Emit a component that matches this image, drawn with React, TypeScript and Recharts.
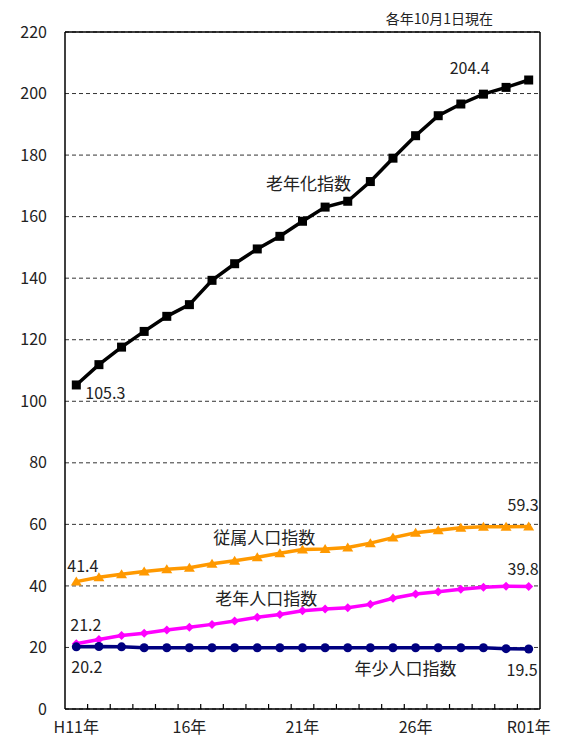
import React from 'react';
import { LineChart, Line, XAxis, YAxis, CartesianGrid, LabelList } from 'recharts';

const categories = ['H11', 'H12', 'H13', 'H14', 'H15', 'H16', 'H17', 'H18', 'H19', 'H20', 'H21', 'H22', 'H23', 'H24', 'H25', 'H26', 'H27', 'H28', 'H29', 'H30', 'R01'];
const tickLabels = ['H11年', '', '', '', '', '16年', '', '', '', '', '21年', '', '', '', '', '26年', '', '', '', '', 'R01年'];
const yTicks = [0, 20, 40, 60, 80, 100, 120, 140, 160, 180, 200, 220];

const agingIndex = [105.3, 111.9, 117.6, 122.7, 127.6, 131.4, 139.3, 144.7, 149.5, 153.6, 158.5, 163.1, 165.0, 171.4, 179.0, 186.3, 192.8, 196.6, 199.8, 202.0, 204.4];
const dependencyIndex = [41.4, 42.8, 43.8, 44.7, 45.4, 45.9, 47.2, 48.2, 49.3, 50.6, 51.8, 52.0, 52.5, 53.9, 55.7, 57.3, 58.1, 58.9, 59.2, 59.2, 59.3];
const elderlyIndex = [21.2, 22.6, 23.9, 24.6, 25.7, 26.6, 27.5, 28.6, 29.8, 30.7, 31.9, 32.5, 32.9, 34.0, 36.0, 37.4, 38.1, 38.9, 39.6, 39.9, 39.8];
const youthIndex = [20.2, 20.3, 20.2, 19.9, 19.9, 19.9, 19.9, 19.9, 19.9, 19.9, 19.9, 19.9, 19.9, 19.9, 19.9, 19.9, 19.9, 19.9, 19.9, 19.6, 19.5];

const data = categories.map((c, i) => ({
  name: c,
  aging: agingIndex[i],
  dependency: dependencyIndex[i],
  elderly: elderlyIndex[i],
  youth: youthIndex[i],
}));

const FONT = '"Noto Sans CJK JP", "Noto Sans", sans-serif';
const TEXT = '#222';
const CHART_W = 560;
const CHART_H = 728;
const MARGIN = { top: 24, right: 28, left: 0, bottom: 0 };
const YAXIS_W = 57;
const PLOT_W = CHART_W - MARGIN.right - MARGIN.left - YAXIS_W;
const HALF_BAND = PLOT_W / categories.length / 2;

function XTick(props: any) {
  const { x, y, payload, index } = props;
  const i = payload && payload.index != null ? payload.index : index;
  return (
    <g>
      {i < categories.length - 1 && (
        <line x1={x + HALF_BAND} x2={x + HALF_BAND} y1={y} y2={y - 5} stroke="#000" strokeWidth={1.2} />
      )}
      {tickLabels[i] ? (
        <text x={x} y={y + 18} dy="0.355em" textAnchor="middle" fontSize={16} fill={TEXT} fontFamily={FONT}>
          {tickLabels[i]}
        </text>
      ) : null}
    </g>
  );
}

const SquareDot = (props: any) => {
  const { cx, cy, index } = props;
  if (cx == null || cy == null) return <g key={index} />;
  return <rect key={index} x={cx - 4.5} y={cy - 4.5} width={9} height={9} fill="#000" />;
};
const TriangleDot = (props: any) => {
  const { cx, cy, index } = props;
  if (cx == null || cy == null) return <g key={index} />;
  return <path key={index} d={`M${cx},${cy - 5} L${cx + 5.5},${cy + 4} L${cx - 5.5},${cy + 4} Z`} fill="#FF9900" />;
};
const DiamondDot = (props: any) => {
  const { cx, cy, index } = props;
  if (cx == null || cy == null) return <g key={index} />;
  return <path key={index} d={`M${cx},${cy - 4.5} L${cx + 4.5},${cy} L${cx},${cy + 4.5} L${cx - 4.5},${cy} Z`} fill="#FF00FF" />;
};
const CircleDot = (props: any) => {
  const { cx, cy, index } = props;
  if (cx == null || cy == null) return <g key={index} />;
  return <circle key={index} cx={cx} cy={cy} r={4.5} fill="#000080" />;
};

type LabelCfg = { index: number; text?: string; dx: number; dy: number; anchor: 'start' | 'middle' | 'end'; size: number };

function makeLabels(cfgs: LabelCfg[]) {
  return (props: any) => {
    const { x, y, index, value } = props;
    const found = cfgs.filter((c) => c.index === index);
    if (!found.length) return null;
    return (
      <g>
        {found.map((c, k) => (
          <text
            key={k}
            x={x + c.dx}
            y={y + c.dy}
            dy="0.355em"
            textAnchor={c.anchor}
            fontSize={c.size}
            fill={TEXT}
            fontFamily={FONT}
          >
            {c.text != null ? c.text : Number(value).toFixed(1)}
          </text>
        ))}
      </g>
    );
  };
}

const agingLabels = makeLabels([
  { index: 0, dx: 9, dy: 8, anchor: 'start', size: 16 },
  { index: 20, dx: -59, dy: -12, anchor: 'middle', size: 16 },
  { index: 10, text: '老年化指数', dx: 6, dy: -37, anchor: 'middle', size: 17 },
]);
const dependencyLabels = makeLabels([
  { index: 0, dx: -9, dy: -15, anchor: 'start', size: 16 },
  { index: 20, dx: 10, dy: -21, anchor: 'end', size: 16 },
  { index: 8, text: '従属人口指数', dx: 7, dy: -19, anchor: 'middle', size: 17 },
]);
const elderlyLabels = makeLabels([
  { index: 0, dx: -6, dy: -18, anchor: 'start', size: 16 },
  { index: 20, dx: 10, dy: -17, anchor: 'end', size: 16 },
  { index: 8, text: '老年人口指数', dx: 9, dy: -18, anchor: 'middle', size: 17 },
]);
const youthLabels = makeLabels([
  { index: 0, dx: -5, dy: 20, anchor: 'start', size: 16 },
  { index: 20, dx: 9, dy: 21, anchor: 'end', size: 16 },
  { index: 15, text: '年少人口指数', dx: -10, dy: 21, anchor: 'middle', size: 17 },
]);

export default function App() {
  return (
    <div style={{ position: 'relative', width: CHART_W, height: CHART_H, fontFamily: FONT }}>
      <div
        style={{
          position: 'absolute',
          top: 1,
          right: CHART_W - 485,
          fontSize: 14,
          lineHeight: '18px',
          color: TEXT,
          fontFamily: FONT,
          whiteSpace: 'nowrap',
        }}
      >
        各年10月1日現在
      </div>
      <LineChart width={CHART_W} height={CHART_H} data={data} margin={MARGIN}>
        <CartesianGrid vertical={false} stroke="#333" strokeDasharray="4 3" strokeWidth={1} />
        <CartesianGrid
          stroke="#000"
          strokeWidth={1.5}
          horizontalCoordinatesGenerator={({ offset }: any) => [offset.top]}
          verticalCoordinatesGenerator={({ offset }: any) => [offset.left + offset.width]}
        />
        <XAxis
          dataKey="name"
          interval={0}
          tickLine={false}
          tickSize={0}
          tickMargin={0}
          height={27}
          padding={{ left: HALF_BAND, right: HALF_BAND }}
          axisLine={{ stroke: '#000', strokeWidth: 1.5 }}
          tick={<XTick />}
        />
        <YAxis
          width={YAXIS_W}
          domain={[0, 220]}
          ticks={yTicks}
          interval={0}
          tickLine={false}
          tickSize={0}
          tickMargin={18}
          axisLine={{ stroke: '#000', strokeWidth: 1.5 }}
          tick={{ fontSize: 16, fill: TEXT, fontFamily: FONT }}
        />
        <Line dataKey="aging" stroke="#000" strokeWidth={3.5} dot={<SquareDot />} isAnimationActive={false}>
          <LabelList dataKey="aging" content={agingLabels} />
        </Line>
        <Line dataKey="dependency" stroke="#FF9900" strokeWidth={3.5} dot={<TriangleDot />} isAnimationActive={false}>
          <LabelList dataKey="dependency" content={dependencyLabels} />
        </Line>
        <Line dataKey="elderly" stroke="#FF00FF" strokeWidth={3.5} dot={<DiamondDot />} isAnimationActive={false}>
          <LabelList dataKey="elderly" content={elderlyLabels} />
        </Line>
        <Line dataKey="youth" stroke="#000080" strokeWidth={3.5} dot={<CircleDot />} isAnimationActive={false}>
          <LabelList dataKey="youth" content={youthLabels} />
        </Line>
      </LineChart>
    </div>
  );
}
